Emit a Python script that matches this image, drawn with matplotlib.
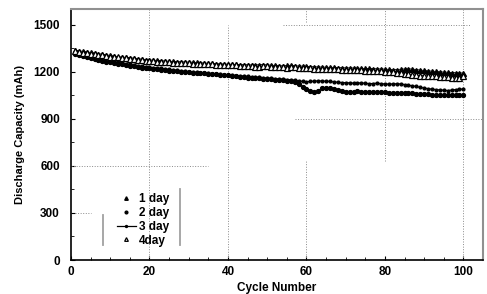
import numpy as np
import matplotlib
matplotlib.use("Agg")
import matplotlib.pyplot as plt

plt.rcParams['font.family'] = ['Liberation Sans', 'DejaVu Sans']
plt.rcParams['font.weight'] = 'bold'

cycles = np.arange(1, 101)

cap_1day = [
    1338, 1334, 1330, 1327, 1323, 1320, 1316, 1312, 1308, 1304,
    1300, 1297, 1294, 1292, 1290, 1287, 1284, 1281, 1278, 1276,
    1274, 1272, 1271, 1269, 1267, 1266, 1265, 1264, 1263, 1262,
    1261, 1259, 1258, 1256, 1255, 1254, 1252, 1251, 1250, 1249,
    1248, 1247, 1246, 1246, 1245, 1244, 1244, 1245, 1246, 1244,
    1242, 1240, 1239, 1238, 1240, 1241, 1239, 1237, 1236, 1234,
    1233, 1232, 1231, 1230, 1229, 1228, 1228, 1227, 1226, 1225,
    1225, 1224, 1223, 1222, 1221, 1221, 1220, 1219, 1218, 1217,
    1215, 1213, 1214, 1216, 1218, 1219, 1217, 1214, 1211, 1208,
    1206, 1204, 1202, 1200, 1198, 1197, 1195, 1194, 1193, 1192,
]

cap_2day = [
    1315, 1308, 1301, 1294, 1288, 1282, 1276, 1270, 1265, 1260,
    1255, 1251, 1247, 1243, 1239, 1235, 1231, 1227, 1224, 1221,
    1219, 1216, 1213, 1210, 1207, 1205, 1203, 1201, 1199, 1197,
    1195, 1193, 1191, 1189, 1187, 1185, 1183, 1181, 1179, 1177,
    1175, 1172, 1169, 1166, 1163, 1161, 1159, 1157, 1155, 1153,
    1151, 1149, 1147, 1145, 1143, 1141, 1132, 1120, 1105, 1090,
    1078, 1068, 1080, 1094, 1098, 1096, 1092, 1086, 1080, 1074,
    1071, 1073, 1075, 1074, 1072, 1070, 1071, 1072, 1070, 1068,
    1067, 1066, 1065, 1064, 1064, 1063, 1062, 1060, 1058, 1056,
    1055, 1054, 1053, 1052, 1051, 1050, 1051, 1052, 1051, 1050,
]

cap_3day = [
    1325, 1318, 1311, 1305, 1299, 1293, 1287, 1281, 1276, 1270,
    1265, 1260, 1255, 1251, 1247, 1243, 1239, 1235, 1231, 1228,
    1226, 1224, 1221, 1218, 1215, 1212, 1209, 1206, 1203, 1200,
    1198, 1196, 1194, 1192, 1190, 1188, 1186, 1184, 1182, 1180,
    1178, 1176, 1174, 1172, 1170, 1168, 1166, 1164, 1162, 1160,
    1158, 1156, 1154, 1152, 1150, 1148, 1146, 1142, 1138, 1136,
    1138, 1140, 1142, 1141, 1139, 1138, 1135, 1133, 1131, 1130,
    1129, 1127, 1128, 1129, 1126, 1124, 1125, 1127, 1124, 1122,
    1121, 1122, 1123, 1122, 1118, 1114, 1110, 1106, 1100, 1096,
    1092, 1089, 1086, 1084, 1082, 1080, 1083, 1086, 1088, 1090,
]

cap_4day = [
    1330, 1326, 1322, 1318, 1315, 1311, 1307, 1304, 1300, 1297,
    1294, 1291, 1288, 1285, 1282, 1279, 1276, 1273, 1270, 1268,
    1266, 1264, 1262, 1260, 1259, 1257, 1256, 1255, 1254, 1253,
    1252, 1251, 1250, 1249, 1248, 1247, 1246, 1245, 1244, 1243,
    1242, 1240, 1238, 1236, 1235, 1234, 1233, 1232, 1234, 1235,
    1233, 1231, 1229, 1228, 1227, 1228, 1229, 1227, 1225, 1223,
    1221, 1220, 1219, 1218, 1220, 1219, 1217, 1215, 1213, 1212,
    1212, 1211, 1210, 1208, 1207, 1206, 1205, 1204, 1202, 1200,
    1198, 1196, 1193, 1190, 1186, 1183, 1180, 1178, 1176, 1175,
    1174, 1172, 1170, 1168, 1166, 1164, 1162, 1160, 1163, 1172,
]

labels = ['1 day', '2 day', '3 day', '4day']
x_ticks = [0, 20, 40, 60, 80, 100]
y_ticks = [0, 300, 600, 900, 1200, 1500]

fig = plt.figure(figsize=(4.87, 2.94), dpi=100)
ax = fig.add_axes([0.1458, 0.1156, 0.8460, 0.8538])

# broken dotted grid like the scanned original
gc = '#8a8a8a'
ax.vlines(20, 0, 1600, colors=gc, linestyles=':', lw=0.7)
ax.vlines(40, 0, 1500, colors=gc, linestyles=':', lw=0.7)
ax.vlines(60, 0, 630, colors=gc, linestyles=':', lw=0.7)
ax.vlines(60, 1520, 1600, colors=gc, linestyles=':', lw=0.7)
ax.vlines(80, 630, 1600, colors=gc, linestyles=':', lw=0.7)
ax.vlines(100, 0, 1600, colors=gc, linestyles=':', lw=0.7)
ax.hlines(1500, 54, 102, colors=gc, linestyles=':', lw=0.7)
ax.hlines(900, 57, 105, colors=gc, linestyles=':', lw=0.7)
ax.hlines(600, 0, 35, colors=gc, linestyles=':', lw=0.7)
ax.hlines(300, 1, 5, colors=gc, linestyles=':', lw=0.7)

ax.plot(cycles, cap_1day, ls='-', lw=0.6, marker='^', ms=3.6, color='black', label=labels[0])
ax.plot(cycles, cap_2day, ls='-', lw=0.6, marker='o', ms=2.8, color='black', label=labels[1])
ax.plot(cycles, cap_3day, ls='-', lw=0.9, marker='.', ms=4, color='black', label=labels[2])
ax.plot(cycles, cap_4day, ls='-', lw=0.6, marker='^', ms=3.8, mfc='white', mec='black',
        mew=0.9, color='black', label=labels[3])

# leftover legend frame strokes
ax.plot([8.2, 8.2], [96, 290], color='#a0a0a0', lw=1.3)
ax.plot([27.8, 27.8], [96, 450], color='#a0a0a0', lw=1.3)

ax.set_xlim(0, 105)
ax.set_ylim(0, 1600)
ax.set_xticks(x_ticks)
ax.set_yticks(y_ticks)
ax.set_xticks(np.arange(0, 106, 5), minor=True)
ax.set_yticks(np.arange(0, 1601, 150), minor=True)
ax.tick_params(which='both', direction='in', labelsize=8.5)
ax.tick_params(which='major', length=3, width=0.8)
ax.tick_params(which='minor', length=2, width=0.6)
ax.tick_params(axis='y', pad=8)
ax.tick_params(axis='x', pad=4)
for t in ax.get_xticklabels() + ax.get_yticklabels():
    t.set_fontweight('bold')

ax.spines['left'].set_linewidth(1.2)
ax.spines['bottom'].set_linewidth(1.2)
ax.spines['top'].set_color('#909090')
ax.spines['right'].set_color('#909090')
ax.spines['top'].set_linewidth(1.5)
ax.spines['right'].set_linewidth(1.5)

ax.set_xlabel('Cycle Number', fontsize=8.5, fontweight='bold', labelpad=3)
ax.set_ylabel('Discharge Capacity (mAh)', fontsize=8, fontweight='bold', labelpad=6)

h = ax.get_legend_handles_labels()[0]
leg = ax.legend(h, labels, loc='center', bbox_to_anchor=(0.175, 0.16), frameon=False,
                fontsize=8.5, handlelength=1.6, handletextpad=0.3,
                labelspacing=0.15, markerscale=0.7)
for t in leg.get_texts():
    t.set_fontweight('bold')
# only the 3 day entry shows a line in the original legend
for i, ln in enumerate(leg.get_lines()):
    if i != 2:
        ln.set_linestyle('none')

fig.savefig('out.png', dpi=100)
